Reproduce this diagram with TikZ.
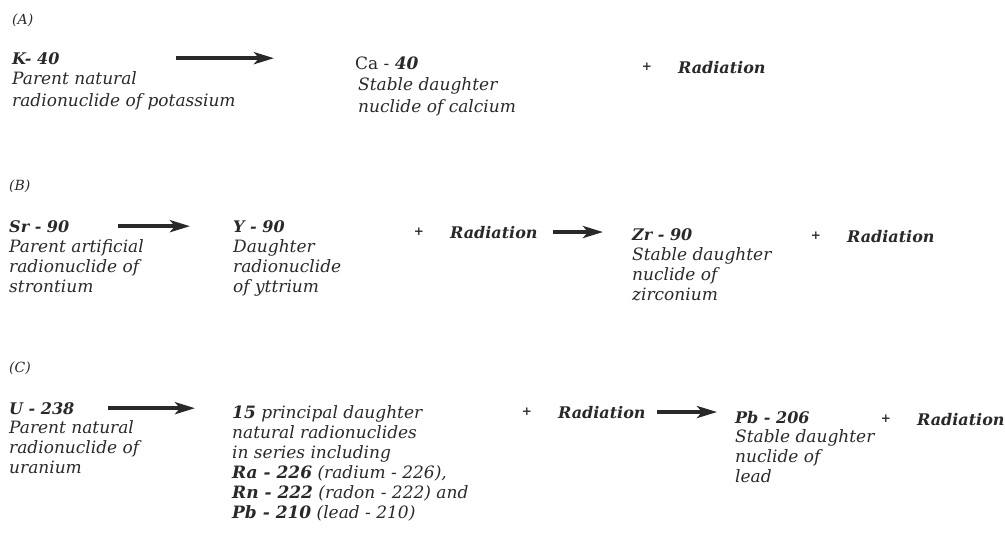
\documentclass[tikz,border=0pt]{standalone}
\usepackage{fontspec}
\setmainfont{DejaVu Serif}
\usetikzlibrary{arrows.meta,calc}

\definecolor{ink}{gray}{0.16}
\tikzset{
  txt/.style={anchor=base west, inner sep=0pt, align=left, text=ink,
    font=\fontsize{17}{20}\selectfont\itshape},
  nuc/.style={txt, font=\fontsize{16}{20}\selectfont\itshape\bfseries},
  part/.style={txt, font=\fontsize{14}{16}\selectfont\itshape},
  plus/.style={inner sep=0pt, text=ink, font=\fontsize{12}{14}\selectfont\bfseries},
  decay/.style={draw=ink, line width=3.6pt, -{Stealth[length=20pt,width=12pt,inset=5pt]}}
}

\begin{document}
\begin{tikzpicture}[x=1pt, y=-1pt]
    \useasboundingbox (0,0) rectangle (1005,533);

    \node[part] (partA) at (12,24) {(A)};
    \node[nuc] (k40) at (12,64) {K- 40};
    \node[txt] (k40d) at (12,106) {Parent natural\\[2pt]radionuclide of potassium};
    \node[txt] (ca40) at (355,69) {{\upshape Ca -} \textbf{40}};
    \node[txt] (ca40d) at (358,112) {Stable daughter\\[2pt]nuclide of calcium};

    \node[part] (partB) at (9,190) {(B)};
    \node[nuc] (sr90) at (9,232) {Sr - 90};
    \node[txt] (sr90d) at (9,292) {Parent artificial\\radionuclide of\\strontium};
    \node[nuc] (y90) at (233,232) {Y - 90};
    \node[txt] (y90d) at (233,292) {Daughter\\radionuclide\\of yttrium};
    \node[nuc] (zr90) at (632,240) {Zr - 90};
    \node[txt] (zr90d) at (632,300) {Stable daughter\\nuclide of\\zirconium};

    \node[part] (partC) at (9,372) {(C)};
    \node[nuc] (u238) at (9,414) {U - 238};
    \node[txt] (u238d) at (9,473) {Parent natural\\radionuclide of\\uranium};
    \node[txt] (series) at (232,518) {\textbf{15} principal daughter\\natural radionuclides\\in series including\\\textbf{Ra - 226} (radium - 226),\\\textbf{Rn - 222} (radon - 222) and\\\textbf{Pb - 210} (lead - 210)};
    \node[nuc] (pb206) at (735,423) {Pb - 206};
    \node[txt] (pb206d) at (735,482) {Stable daughter\\nuclide of\\lead};

    \foreach \n/\x/\y in {A/678/73, B1/450/238, B2/847/242, C1/558/418, C2/917/425} {
      \node[nuc] (rad\n) at (\x,\y) {Radiation};
      \node[plus] (plus\n) at ($(rad\n.base west)+(-31,-6)$) {+};
    }

    \draw[decay, shorten <=164pt, shorten >=81pt] (k40.west) -- (k40.west -| ca40.west);
    \draw[decay, shorten <=109pt, shorten >=43pt] (sr90.west) -- (sr90.west -| y90.west);
    \draw[decay, shorten <=103pt, shorten >=29pt] (radB1.west) -- (radB1.west -| zr90.west);
    \draw[decay, shorten <=99pt, shorten >=37pt] (u238.west) -- (u238.west -| series.west);
    \draw[decay, shorten <=99pt, shorten >=18pt] (radC1.west) -- (radC1.west -| pb206.west);

  \end{tikzpicture}
\end{document}
